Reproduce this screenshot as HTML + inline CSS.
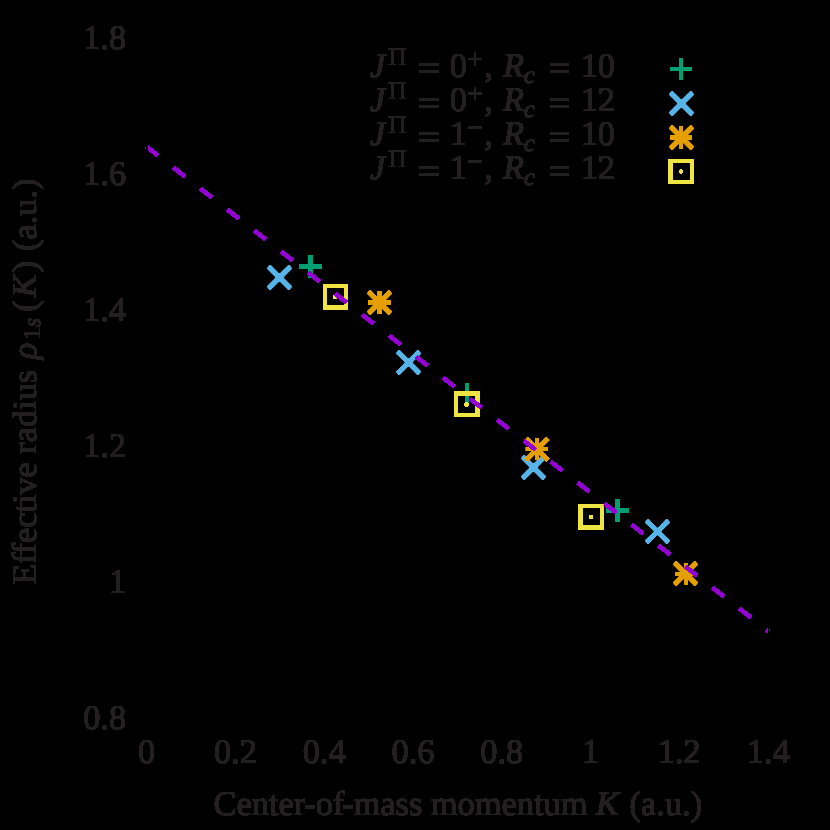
<!DOCTYPE html>
<html><head><meta charset="utf-8"><title>plot</title>
<style>
html,body{margin:0;padding:0;background:#000;}
body{width:830px;height:830px;overflow:hidden;}
svg{display:block;}
text{font-family:"Liberation Serif",serif;fill:#231f20;stroke:#231f20;stroke-width:0.2px;text-rendering:geometricPrecision;}
.i{font-style:italic;}
</style></head><body>
<svg width="830" height="830" viewBox="0 0 830 830">
<defs>
<filter id="fT" x="0" y="0" width="830" height="830" filterUnits="userSpaceOnUse" color-interpolation-filters="sRGB"><feComponentTransfer in="SourceAlpha" result="a"><feFuncA type="linear" slope="50" intercept="0"/></feComponentTransfer><feFlood flood-color="#231f20" result="c"/><feComposite in="c" in2="a" operator="in"/></filter>
<filter id="fG" x="0" y="0" width="830" height="830" filterUnits="userSpaceOnUse" color-interpolation-filters="sRGB"><feComponentTransfer in="SourceAlpha" result="a"><feFuncA type="linear" slope="12" intercept="-0.5"/></feComponentTransfer><feFlood flood-color="#009e73" result="c"/><feComposite in="c" in2="a" operator="in"/></filter>
<filter id="fB" x="0" y="0" width="830" height="830" filterUnits="userSpaceOnUse" color-interpolation-filters="sRGB"><feComponentTransfer in="SourceAlpha" result="a"><feFuncA type="linear" slope="12" intercept="-0.5"/></feComponentTransfer><feFlood flood-color="#56b4e9" result="c"/><feComposite in="c" in2="a" operator="in"/></filter>
<filter id="fO" x="0" y="0" width="830" height="830" filterUnits="userSpaceOnUse" color-interpolation-filters="sRGB"><feComponentTransfer in="SourceAlpha" result="a"><feFuncA type="linear" slope="12" intercept="-0.5"/></feComponentTransfer><feFlood flood-color="#e69f00" result="c"/><feComposite in="c" in2="a" operator="in"/></filter>
<filter id="fY" x="0" y="0" width="830" height="830" filterUnits="userSpaceOnUse" color-interpolation-filters="sRGB"><feComponentTransfer in="SourceAlpha" result="a"><feFuncA type="linear" slope="12" intercept="-0.5"/></feComponentTransfer><feFlood flood-color="#f0e442" result="c"/><feComposite in="c" in2="a" operator="in"/></filter>
<filter id="fP" x="0" y="0" width="830" height="830" filterUnits="userSpaceOnUse" color-interpolation-filters="sRGB"><feComponentTransfer in="SourceAlpha" result="a"><feFuncA type="linear" slope="12" intercept="-0.5"/></feComponentTransfer><feFlood flood-color="#9400d3" result="c"/><feComposite in="c" in2="a" operator="in"/></filter>
<filter id="fK" x="0" y="0" width="830" height="830" filterUnits="userSpaceOnUse" color-interpolation-filters="sRGB"><feComponentTransfer in="SourceAlpha" result="a"><feFuncA type="linear" slope="12" intercept="-0.5"/></feComponentTransfer><feFlood flood-color="#000000" result="c"/><feComposite in="c" in2="a" operator="in"/></filter>
</defs>
<rect width="830" height="830" fill="#000"/>
<g filter="url(#fT)">
<text x="146.60" y="763.00" font-size="34.40" text-anchor="middle">0</text>
<text x="235.39" y="763.00" font-size="34.40" text-anchor="middle">0.2</text>
<text x="324.17" y="763.00" font-size="34.40" text-anchor="middle">0.4</text>
<text x="412.96" y="763.00" font-size="34.40" text-anchor="middle">0.6</text>
<text x="501.74" y="763.00" font-size="34.40" text-anchor="middle">0.8</text>
<text x="590.53" y="763.00" font-size="34.40" text-anchor="middle">1</text>
<text x="679.31" y="763.00" font-size="34.40" text-anchor="middle">1.2</text>
<text x="768.10" y="763.00" font-size="34.40" text-anchor="middle">1.4</text>
<text x="126.30" y="48.50" font-size="34.40" text-anchor="end">1.8</text>
<text x="126.30" y="184.60" font-size="34.40" text-anchor="end">1.6</text>
<text x="126.30" y="320.70" font-size="34.40" text-anchor="end">1.4</text>
<text x="126.30" y="456.80" font-size="34.40" text-anchor="end">1.2</text>
<text x="126.30" y="592.90" font-size="34.40" text-anchor="end">1</text>
<text x="126.30" y="729.00" font-size="34.40" text-anchor="end">0.8</text>
<text x="213.45" y="814.6" font-size="34.40">Center-of<tspan dx="-2.5">-mass momentum </tspan><tspan class="i" dx="-0.3">K</tspan><tspan dx="2.2"> (a.u.)</tspan></text>
<g transform="rotate(-90)">
<text x="-584.8" y="35.80" font-size="34.40">Ef<tspan dx="-1.5">f</tspan>ec<tspan dx="-0.3" letter-spacing="-0.45">tive</tspan></text>
<text x="-453.80" y="35.80" font-size="34.40">radius</text>
<text x="-359.20" y="35.80" font-size="34.40" class="i">ρ</text>
<text x="-339.40" y="40.20" font-size="24.10">1</text>
<text x="-327.20" y="40.20" font-size="24.10" class="i">s</text>
<text x="-311.80" y="35.80" font-size="34.40">(</text>
<text x="-297.60" y="35.80" font-size="34.40" class="i">K</text>
<text x="-272.30" y="35.80" font-size="34.40">)</text>
<text x="-251.00" y="35.80" font-size="34.40">(a.u.)</text>
</g>
<text x="370.00" y="76.60" font-size="34.40" class="i">J</text>
<text x="388.30" y="64.60" font-size="25.30">Π</text>
<rect x="419.90" y="63.00" width="18.30" height="3.00" fill="#231f20"/>
<rect x="419.90" y="70.00" width="18.30" height="3.00" fill="#231f20"/>
<text x="449.70" y="76.60" font-size="34.40">0</text>
<rect x="468.30" y="58.05" width="13.60" height="1.70" fill="#231f20"/>
<rect x="474.25" y="52.50" width="1.70" height="12.80" fill="#231f20"/>
<text x="484.60" y="76.60" font-size="34.40">,</text>
<text x="503.00" y="76.60" font-size="34.40" class="i">R</text>
<text x="524.00" y="82.60" font-size="24.10" class="i">c</text>
<rect x="550.70" y="63.00" width="18.30" height="3.00" fill="#231f20"/>
<rect x="550.70" y="70.00" width="18.30" height="3.00" fill="#231f20"/>
<text x="580.80" y="76.60" font-size="34.40">1</text>
<text x="597.70" y="76.60" font-size="34.40">0</text>
<text x="370.00" y="111.10" font-size="34.40" class="i">J</text>
<text x="388.30" y="99.10" font-size="25.30">Π</text>
<rect x="419.90" y="98.00" width="18.30" height="3.00" fill="#231f20"/>
<rect x="419.90" y="105.00" width="18.30" height="3.00" fill="#231f20"/>
<text x="449.70" y="111.10" font-size="34.40">0</text>
<rect x="468.30" y="92.55" width="13.60" height="1.70" fill="#231f20"/>
<rect x="474.25" y="87.00" width="1.70" height="12.80" fill="#231f20"/>
<text x="484.60" y="111.10" font-size="34.40">,</text>
<text x="503.00" y="111.10" font-size="34.40" class="i">R</text>
<text x="524.00" y="117.10" font-size="24.10" class="i">c</text>
<rect x="550.70" y="98.00" width="18.30" height="3.00" fill="#231f20"/>
<rect x="550.70" y="105.00" width="18.30" height="3.00" fill="#231f20"/>
<text x="580.80" y="111.10" font-size="34.40">1</text>
<text x="597.70" y="111.10" font-size="34.40">2</text>
<text x="370.00" y="145.40" font-size="34.40" class="i">J</text>
<text x="388.30" y="133.40" font-size="25.30">Π</text>
<rect x="419.90" y="132.00" width="18.30" height="3.00" fill="#231f20"/>
<rect x="419.90" y="139.00" width="18.30" height="3.00" fill="#231f20"/>
<text x="449.70" y="145.40" font-size="34.40">1</text>
<rect x="468.30" y="126.85" width="13.60" height="1.70" fill="#231f20"/>
<text x="484.60" y="145.40" font-size="34.40">,</text>
<text x="503.00" y="145.40" font-size="34.40" class="i">R</text>
<text x="524.00" y="151.40" font-size="24.10" class="i">c</text>
<rect x="550.70" y="132.00" width="18.30" height="3.00" fill="#231f20"/>
<rect x="550.70" y="139.00" width="18.30" height="3.00" fill="#231f20"/>
<text x="580.80" y="145.40" font-size="34.40">1</text>
<text x="597.70" y="145.40" font-size="34.40">0</text>
<text x="370.00" y="179.40" font-size="34.40" class="i">J</text>
<text x="388.30" y="167.40" font-size="25.30">Π</text>
<rect x="419.90" y="166.00" width="18.30" height="3.00" fill="#231f20"/>
<rect x="419.90" y="173.00" width="18.30" height="3.00" fill="#231f20"/>
<text x="449.70" y="179.40" font-size="34.40">1</text>
<rect x="468.30" y="160.85" width="13.60" height="1.70" fill="#231f20"/>
<text x="484.60" y="179.40" font-size="34.40">,</text>
<text x="503.00" y="179.40" font-size="34.40" class="i">R</text>
<text x="524.00" y="185.40" font-size="24.10" class="i">c</text>
<rect x="550.70" y="166.00" width="18.30" height="3.00" fill="#231f20"/>
<rect x="550.70" y="173.00" width="18.30" height="3.00" fill="#231f20"/>
<text x="580.80" y="179.40" font-size="34.40">1</text>
<text x="597.70" y="179.40" font-size="34.40">2</text>
</g>
<g filter="url(#fG)">
<path d="M670.00 69.00H692.00M681.00 58.00V80.00" stroke="#009e73" stroke-width="3.80" fill="none"/>
<path d="M299.50 266.50H321.50M310.50 255.50V277.50" stroke="#009e73" stroke-width="3.80" fill="none"/>
<path d="M456.00 394.00H478.00M467.00 383.00V405.00" stroke="#009e73" stroke-width="3.80" fill="none"/>
<path d="M606.50 510.50H628.50M617.50 499.50V521.50" stroke="#009e73" stroke-width="3.80" fill="none"/>
</g>
<g filter="url(#fB)">
<path d="M670.74 92.74L692.26 114.26M670.74 114.26L692.26 92.74" stroke="#56b4e9" stroke-width="4.70" fill="none"/>
<path d="M268.74 266.74L290.26 288.26M268.74 288.26L290.26 266.74" stroke="#56b4e9" stroke-width="4.70" fill="none"/>
<path d="M397.74 351.74L419.26 373.26M397.74 373.26L419.26 351.74" stroke="#56b4e9" stroke-width="4.70" fill="none"/>
<path d="M522.74 456.74L544.26 478.26M522.74 478.26L544.26 456.74" stroke="#56b4e9" stroke-width="4.70" fill="none"/>
<path d="M646.74 520.74L668.26 542.26M646.74 542.26L668.26 520.74" stroke="#56b4e9" stroke-width="4.70" fill="none"/>
</g>
<g filter="url(#fO)">
<path d="M670.00 137.50H692.00M681.00 126.50V148.50" stroke="#e69f00" stroke-width="3.80" fill="none"/>
<path d="M670.74 126.74L692.26 148.26M670.74 148.26L692.26 126.74" stroke="#e69f00" stroke-width="4.70" fill="none"/>
<path d="M368.50 302.50H390.50M379.50 291.50V313.50" stroke="#e69f00" stroke-width="3.80" fill="none"/>
<path d="M368.74 291.74L390.26 313.26M368.74 313.26L390.26 291.74" stroke="#e69f00" stroke-width="4.70" fill="none"/>
<path d="M525.90 449.00H547.90M536.90 438.00V460.00" stroke="#e69f00" stroke-width="3.80" fill="none"/>
<path d="M526.24 438.44L547.76 459.96M526.24 459.96L547.76 438.44" stroke="#e69f00" stroke-width="4.70" fill="none"/>
<path d="M675.00 574.00H697.00M686.00 563.00V585.00" stroke="#e69f00" stroke-width="3.80" fill="none"/>
<path d="M674.74 562.74L696.26 584.26M674.74 584.26L696.26 562.74" stroke="#e69f00" stroke-width="4.70" fill="none"/>
</g>
<g filter="url(#fY)">
<path fill-rule="evenodd" fill="#f0e442" d="M668 159H694V184H668ZM673 163H690V180H673Z"/><circle cx="681.00" cy="171.50" r="1.95" fill="#f0e442"/>
<path fill-rule="evenodd" fill="#f0e442" d="M323 284H348V310H323ZM327 288H344V305H327Z"/><circle cx="335.00" cy="297.00" r="1.95" fill="#f0e442"/>
<path fill-rule="evenodd" fill="#f0e442" d="M454 391H480V417H454ZM458 396H475V413H458Z"/><circle cx="466.50" cy="404.50" r="1.95" fill="#f0e442"/>
<path fill-rule="evenodd" fill="#f0e442" d="M578 504H604V530H578ZM583 508H600V525H583Z"/><circle cx="591.00" cy="517.00" r="1.95" fill="#f0e442"/>
</g>
<path filter="url(#fP)" d="M147.00 146.98L768.50 631.31" stroke="#9400d3" stroke-width="4.00" stroke-dasharray="14.300 19.870" stroke-dashoffset="0.5" fill="none"/>
<rect x="145" y="147" width="1" height="2" fill="#9400d3"/>
<rect filter="url(#fK)" x="147.00" y="38.00" width="621.50" height="680.50" stroke="#000" stroke-width="1" fill="none"/>
</svg>
</body></html>
